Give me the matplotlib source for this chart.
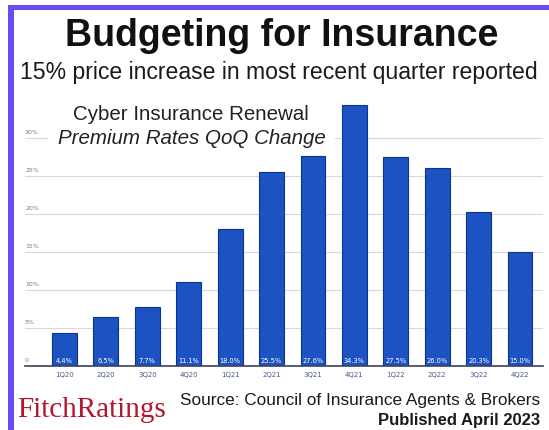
import matplotlib
matplotlib.use("Agg")
import matplotlib.pyplot as plt
from matplotlib.patches import Rectangle
import matplotlib.transforms as mtransforms

quarters = ["1Q20", "2Q20", "3Q20", "4Q20", "1Q21", "2Q21", "3Q21", "4Q21",
            "1Q22", "2Q22", "3Q22", "4Q22"]
values = [4.4, 6.5, 7.7, 11.1, 18.0, 25.5, 27.6, 34.3, 27.5, 26.0, 20.3, 15.0]
value_labels = ["4.4%", "6.5%", "7.7%", "11.1%", "18.0%", "25.5%", "27.6%",
                "34.3%", "27.5%", "26.0%", "20.3%", "15.0%"]
yticks = [0, 5, 10, 15, 20, 25, 30]
ytick_labels = ["0", "5%", "10%", "15%", "20%", "25%", "30%"]

W, H = 549, 430
fig = plt.figure(figsize=(W / 100, H / 100), dpi=100)
fig.patch.set_facecolor("white")

# purple frame (top and left visible)
purple = "#6a4cf2"
fig.add_artist(Rectangle((8 / W, -0.1), 6 / W, 1.1 - 5 / H, transform=fig.transFigure,
                         facecolor=purple, edgecolor="none"))
fig.add_artist(Rectangle((8 / W, 1 - 10 / H), 1.1, 5 / H, transform=fig.transFigure,
                         facecolor=purple, edgecolor="none"))

ax = fig.add_axes([25 / W, (H - 366) / H, (543 - 25) / W, 266 / H])
x = list(range(len(quarters)))
ax.bar(x, values, width=0.6, color="#1c52c2", edgecolor="#0b3392", linewidth=0.8, zorder=3)
ax.set_xlim(-0.954, 11.556)
ax.set_ylim(0, 35)

for v in yticks[1:]:
    ax.axhline(v, color="#d9d9d9", linewidth=0.8, zorder=1)
trans = mtransforms.blended_transform_factory(ax.transAxes, ax.transData)
for v, lab in zip(yticks, ytick_labels):
    ax.text(0.0, v + 0.35, lab, transform=trans, ha="left", va="bottom",
            fontsize=4.5, color="#7a7a7a", zorder=2)

for xi, lab in zip(x, value_labels):
    ax.text(xi, 0.7, lab, ha="center", va="center", fontsize=4.8,
            color="white", zorder=4)

ax.set_yticks([])
ax.set_xticks(x)
ax.set_xticklabels(quarters, fontsize=5, color="#4a5a8a")
ax.tick_params(axis="x", length=0, pad=4)
for s in ["top", "right", "left"]:
    ax.spines[s].set_visible(False)
ax.spines["bottom"].set_color("#3c4060")
ax.spines["bottom"].set_linewidth(1.2)
ax.spines["bottom"].set_zorder(5)

# annotation box inside the chart (white backing hides gridlines)
fig.add_artist(Rectangle((48 / W, 1 - 152 / H), (335 - 48) / W, 50 / H,
                         transform=fig.transFigure, facecolor="white",
                         edgecolor="none", zorder=2.5))
fig.text(191 / W, 1 - 115 / H, "Cyber Insurance Renewal",
         ha="center", va="center", fontsize=14.8, color="#222222",
         family="Liberation Sans", zorder=10)
fig.text(192 / W, 1 - 139 / H, "Premium Rates QoQ Change",
         ha="center", va="center", fontsize=14.8, color="#222222", style="italic",
         family="Liberation Sans", zorder=10)

# titles
fig.text(282 / W, 1 - 36 / H, "Budgeting for Insurance", ha="center", va="center",
         fontsize=27, fontweight="bold", family="Liberation Sans", color="#111111")
fig.text(279 / W, 1 - 73 / H, "15% price increase in most recent quarter reported",
         ha="center", va="center", fontsize=16.6, family="Liberation Sans",
         color="#1a1a1a")

# footer
fig.text(17 / W, 1 - 410 / H, "FitchRatings", ha="left", va="center", fontsize=21,
         family="Liberation Serif", color="#b3172d")
fig.text(540 / W, 1 - 400 / H, "Source: Council of Insurance Agents & Brokers",
         ha="right", va="center", fontsize=12.4, family="Liberation Sans", color="#1a1a1a")
fig.text(540 / W, 1 - 420 / H, "Published April 2023", ha="right", va="center",
         fontsize=12, fontweight="bold", family="Liberation Sans", color="#1a1a1a")

fig.savefig("out.png", dpi=100)
